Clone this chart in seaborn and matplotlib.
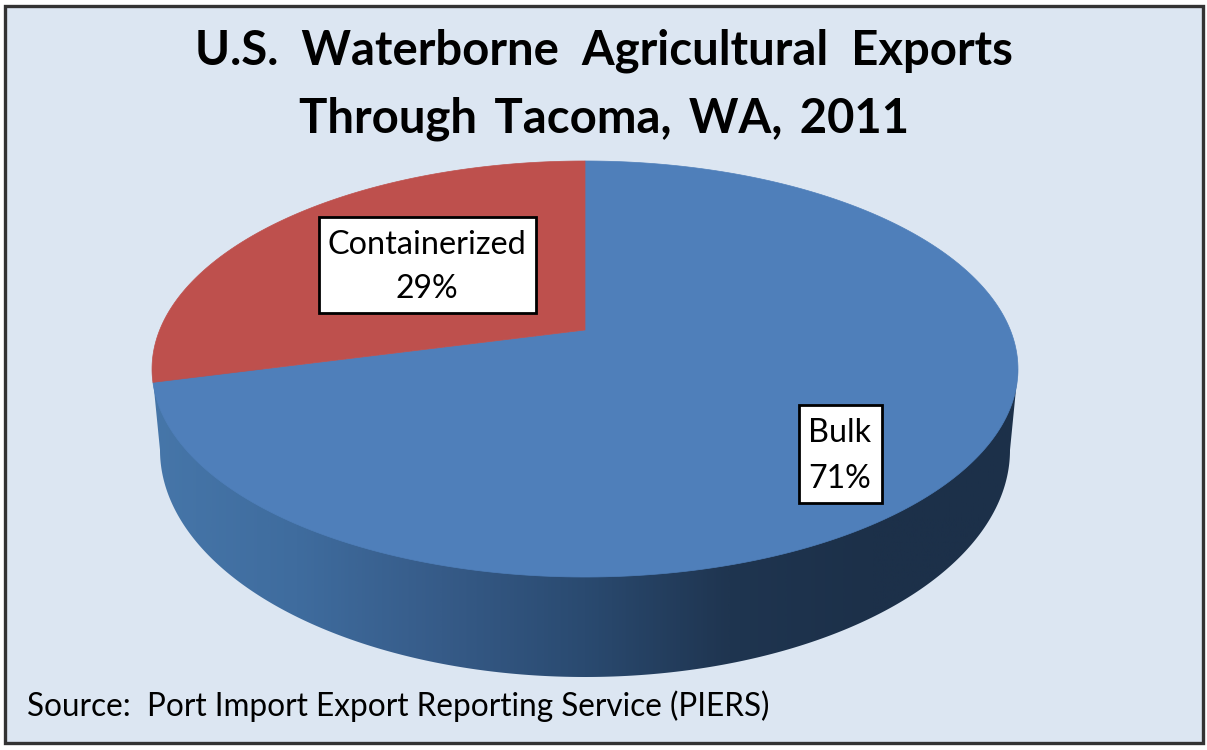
import numpy as np
import matplotlib.pyplot as plt
import seaborn as sns
from matplotlib.patches import Polygon, Rectangle

categories = ["Bulk", "Containerized"]
shares = [71, 29]
title_lines = ["U.S.  Waterborne  Agricultural  Exports", "Through \u2009Tacoma, \u2009WA, \u20092011"]
source_text = "Source:  Port Import Export Reporting Service (PIERS)"

BG = "#DCE6F2"
colors = sns.color_palette(["#4F7FBA", "#BE504D"])

sns.set_theme(style="white")
plt.rcParams["font.family"] = ["Lato", "DejaVu Sans"]

# pie geometry in picture pixels
CX, CY = 585, 330      # where the slices meet
A0, B0, K = 425.3, 200.7, 0.1875   # tilt of the top face


def tilt(theta_deg):
    # unit circle -> top face of the pie, with perspective
    t = np.radians(theta_deg)
    w = 1 + K * np.sin(t)
    return CX + A0 * np.cos(t) / w, CY - B0 * np.sin(t) / w


fig = plt.figure(figsize=(12.07, 7.5), dpi=100, facecolor="white")
ax = fig.add_axes([0, 0, 1, 1])

wedges, _ = ax.pie(shares, startangle=90, counterclock=False, colors=colors)
angles = [(w.theta1, w.theta2) for w in wedges]
for w in wedges:
    w.remove()

ax.set_aspect("auto")
ax.set_xlim(0, 1207)
ax.set_ylim(750, 0)
ax.axis("off")

# panel
ax.add_patch(Rectangle((5, 6), 1198, 737, fc=BG, ec="#333333", lw=2.4, zorder=0))

# side wall with the dark gradient
t = np.radians(np.linspace(180, 0, 300))
wall_x = np.r_[152, 585 + 425 * np.cos(t), 1018]
wall_y = np.r_[369, 450 + 227 * np.sin(t), 369]
wall = Polygon(np.c_[wall_x, wall_y], closed=True, fc="none", ec="none", zorder=1)
ax.add_patch(wall)
cmap = sns.blend_palette(["#4676A9", "#3F6C9E", "#365B88", "#2A4A70", "#1F3550", "#1C3049", "#1C3049"],
                         as_cmap=True)
grad = ax.imshow(np.linspace(0, 1, 512)[None, :], cmap=cmap, aspect="auto",
                 extent=(152, 1018, 680, 360), zorder=1)
grad.set_clip_path(wall)
ax.set_xlim(0, 1207)
ax.set_ylim(750, 0)

# top face
for (th1, th2), c in zip(angles, colors):
    th = np.linspace(th1, th2, 300)
    x, y = tilt(th)
    ax.add_patch(Polygon(np.c_[np.r_[CX, x], np.r_[CY, y]], closed=True, fc=c, ec=c, lw=0.5, zorder=2))

# data labels
label_boxes = {"Bulk": (799, 405, 83, 98), "Containerized": (319, 217, 217, 96)}
for cat, val in zip(categories, shares):
    bx, by, bw, bh = label_boxes[cat]
    ax.add_patch(Rectangle((bx, by), bw, bh, fc="white", ec="black", lw=2.0, zorder=3))
    ax.text(bx + bw / 2 - 1, by + bh * 0.27 + 2, cat, ha="center", va="center", fontsize=23.3, color="black", zorder=4)
    ax.text(bx + bw / 2 - 1, by + bh * 0.73 + 2, f"{val}%", ha="center", va="center", fontsize=23, color="black", zorder=4)

for line, yy in zip(title_lines, [51, 119]):
    ax.text(604, yy, line, ha="center", va="center", fontsize=34, fontweight="bold", color="black", zorder=4)

ax.text(27, 706, source_text, ha="left", va="center", fontsize=22.7, color="black", zorder=4)

fig.savefig("out.png", dpi=100, facecolor="white")
